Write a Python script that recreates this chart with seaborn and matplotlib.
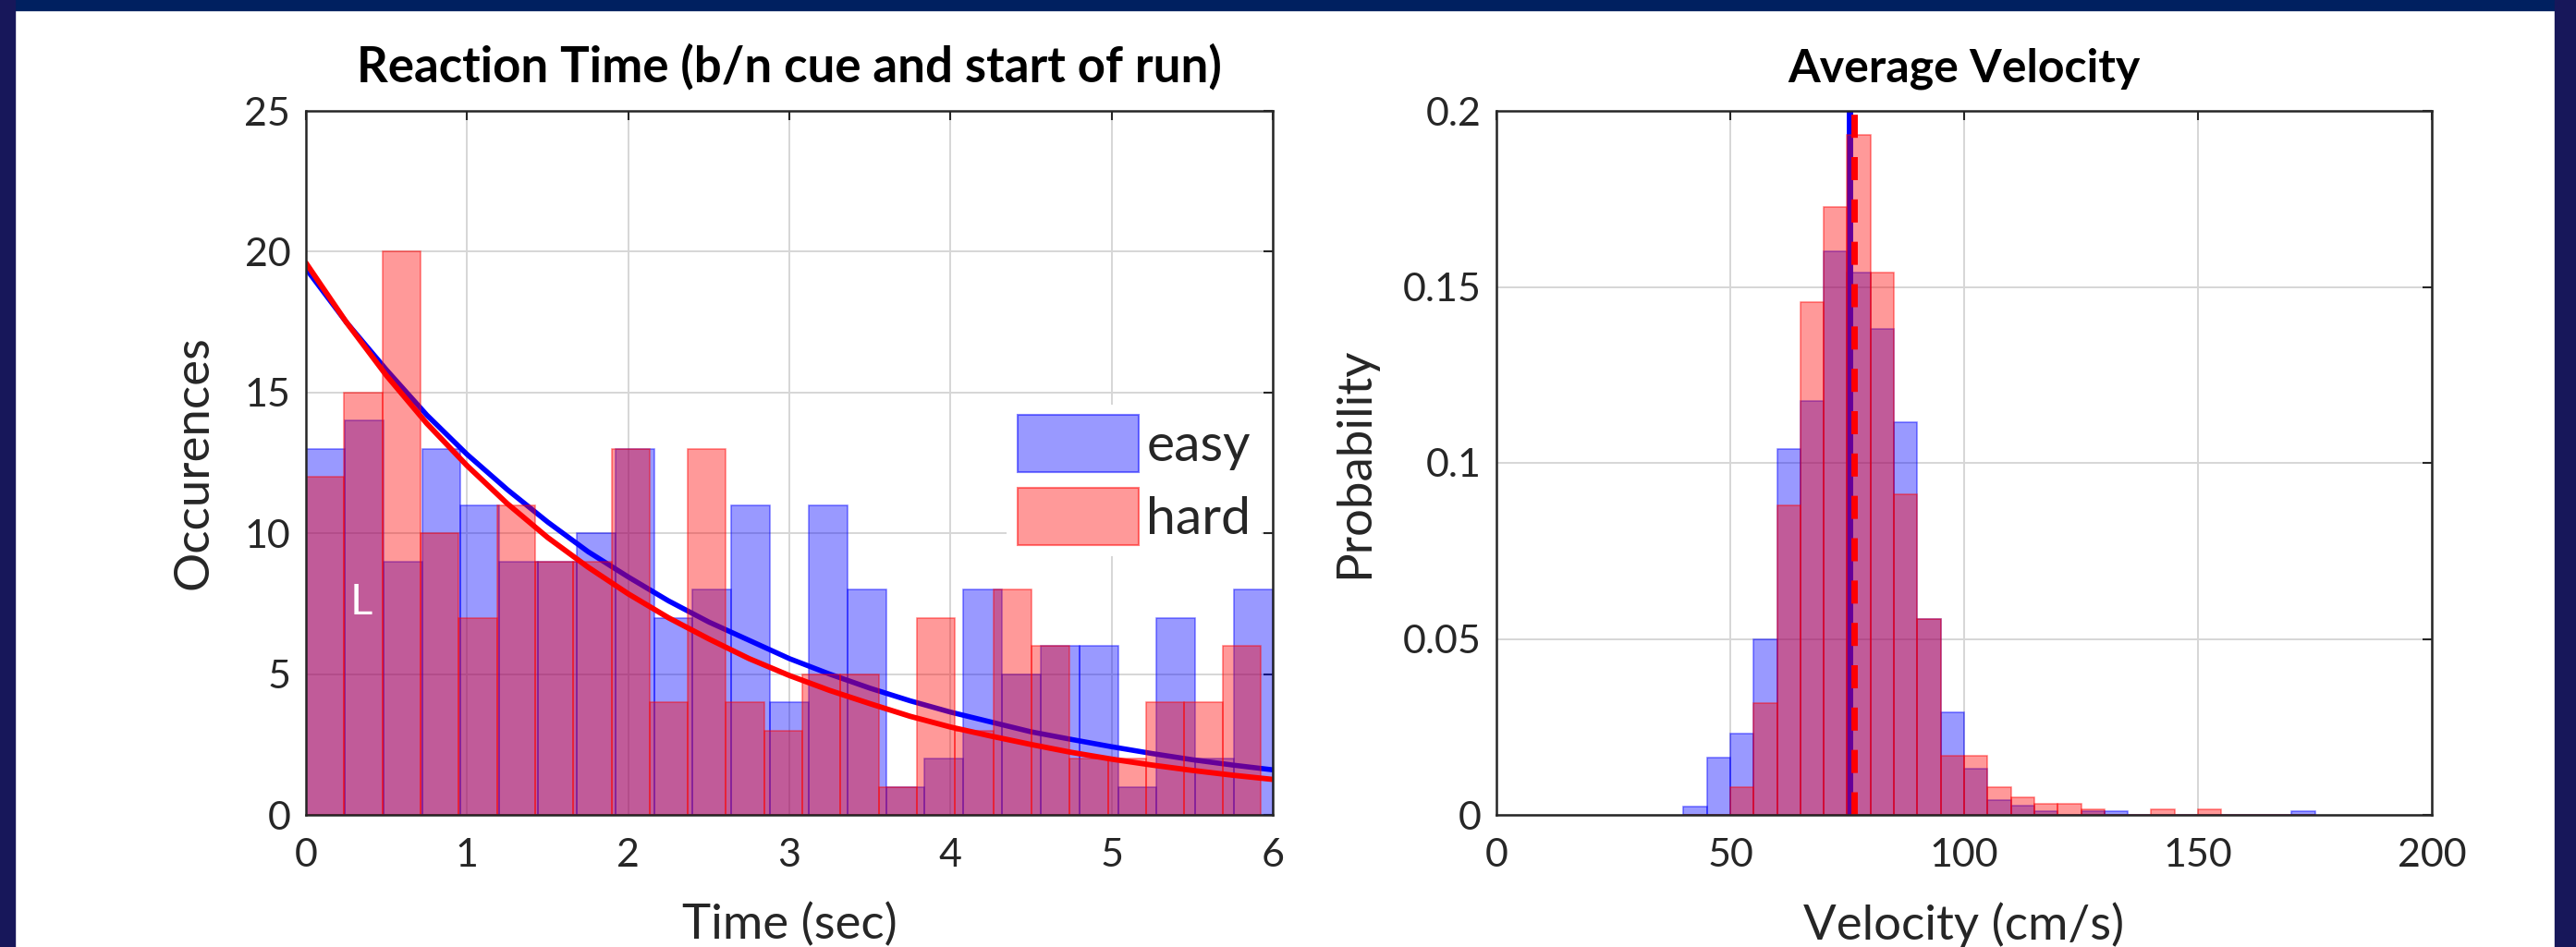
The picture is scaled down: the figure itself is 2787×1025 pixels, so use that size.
import numpy as np
import pandas as pd
import matplotlib
matplotlib.use("Agg")
import matplotlib.pyplot as plt
from matplotlib.patches import Patch, Rectangle
import seaborn as sns

# --- reaction time: counts per bin (25 bins each) ---
easy_rt_counts = [13, 14, 9, 13, 11, 9, 9, 10, 13, 7, 8, 11, 4, 11, 8, 1, 2, 8, 5, 6, 6, 1, 7, 2, 8]
hard_rt_counts = [12, 15, 20, 10, 7, 11, 9, 9, 13, 4, 13, 4, 3, 5, 5, 1, 7, 3, 8, 6, 2, 2, 4, 4, 6]
easy_rt_range = (0.0, 6.0)
hard_rt_range = (0.0, 5.925)

# exponential fit curves, read every 0.25 s
fit_t = [0, 0.25, 0.5, 0.75, 1.0, 1.25, 1.5, 1.75, 2.0, 2.25, 2.5, 2.75, 3.0,
         3.25, 3.5, 3.75, 4.0, 4.25, 4.5, 4.75, 5.0, 5.25, 5.5, 5.75, 6.0]
easy_fit = [19.4, 17.5, 15.8, 14.2, 12.8, 11.55, 10.4, 9.35, 8.45, 7.6, 6.85, 6.2, 5.55,
            5.0, 4.5, 4.05, 3.65, 3.3, 2.95, 2.68, 2.42, 2.18, 1.96, 1.77, 1.6]
hard_fit = [19.6, 17.5, 15.6, 13.9, 12.4, 11.05, 9.85, 8.8, 7.85, 7.0, 6.25, 5.55, 4.95,
            4.42, 3.95, 3.5, 3.12, 2.8, 2.5, 2.22, 1.98, 1.77, 1.58, 1.41, 1.26]

# --- average velocity: probability per 5 cm/s bin, bins start at 40 ---
vel_bin_start = [40, 45, 50, 55, 60, 65, 70, 75, 80, 85, 90, 95, 100, 105,
                 110, 115, 120, 125, 130, 135, 140, 145, 150, 155, 160, 165, 170]
easy_vel_prob = [0.0023, 0.0162, 0.023, 0.050, 0.104, 0.1175, 0.160, 0.154, 0.138,
                 0.1115, 0.0556, 0.0292, 0.013, 0.0042, 0.0026, 0.0011, 0, 0.0011,
                 0.0011, 0, 0, 0, 0, 0, 0, 0, 0.0011]
hard_vel_prob = [0, 0, 0.008, 0.0317, 0.088, 0.1457, 0.1727, 0.1932, 0.154,
                 0.0912, 0.0556, 0.0167, 0.0167, 0.008, 0.0051, 0.0031, 0.0031, 0.0016,
                 0, 0, 0.0016, 0, 0.0016, 0, 0, 0, 0]
vel_bin_width = 5
easy_vel_mean = 75.4
hard_vel_mean = 76.4

BLUE_FACE = (0, 0, 1, 0.4)
BLUE_EDGE = (0, 0, 1, 0.5)
RED_FACE = (1, 0, 0, 0.4)
RED_EDGE = (1, 0, 0, 0.5)
DARK = "#262626"

sns.set_theme(style="white")
plt.rcParams["font.family"] = ["Lato", "DejaVu Sans"]

W, H = 2787, 1025
fig = plt.figure(figsize=(W / 100, H / 100), dpi=100)
fig.patch.set_facecolor("white")

# slide frame remnants
fig.patches.append(Rectangle((0, 1 - 11 / H), 1, 11 / H, transform=fig.transFigure,
                             color="#002060", zorder=0))
fig.patches.append(Rectangle((0, 0), 16 / W, 1, transform=fig.transFigure,
                             color="#17175a", zorder=0))
fig.patches.append(Rectangle((1 - 23 / W, 0), 23 / W, 1, transform=fig.transFigure,
                             color="#17175a", zorder=0))

ax1 = fig.add_axes([331 / W, (H - 882) / H, 1046 / W, 762 / H])
ax2 = fig.add_axes([1619 / W, (H - 882) / H, 1012 / W, 762 / H])

# ---------- left: reaction time ----------
easy_edges = np.linspace(*easy_rt_range, len(easy_rt_counts) + 1)
hard_edges = np.linspace(*hard_rt_range, len(hard_rt_counts) + 1)
rt_easy = pd.DataFrame({"t": (easy_edges[:-1] + easy_edges[1:]) / 2, "n": easy_rt_counts})
rt_hard = pd.DataFrame({"t": (hard_edges[:-1] + hard_edges[1:]) / 2, "n": hard_rt_counts})

sns.histplot(data=rt_easy, x="t", weights="n", bins=easy_edges.tolist(), ax=ax1,
             facecolor=BLUE_FACE, edgecolor=BLUE_EDGE, linewidth=1.1, zorder=1)
sns.lineplot(x=fit_t, y=easy_fit, ax=ax1, color="blue", lw=4.0, zorder=1.5, legend=False)
sns.histplot(data=rt_hard, x="t", weights="n", bins=hard_edges.tolist(), ax=ax1,
             facecolor=RED_FACE, edgecolor=RED_EDGE, linewidth=1.1, zorder=2)
sns.lineplot(x=fit_t, y=hard_fit, ax=ax1, color="red", lw=4.2, zorder=2.5, legend=False)

ax1.set_xlim(0, 6)
ax1.set_ylim(0, 25)
ax1.set_xticks(range(0, 7))
ax1.set_yticks(range(0, 26, 5))
ax1.set_title("Reaction Time (b/n cue and start of run)", fontsize=38,
              fontweight="bold", pad=23, color="black")
ax1.set_xlabel("Time (sec)", fontsize=38, color=DARK)
ax1.set_ylabel("Occurences", fontsize=38, color=DARK)
ax1.xaxis.set_label_coords(0.5, -0.124)
ax1.yaxis.set_label_coords(-0.093, 0.5)

handles = [Patch(facecolor=BLUE_FACE, edgecolor=BLUE_EDGE, lw=1.5, label="easy"),
           Patch(facecolor=RED_FACE, edgecolor=RED_EDGE, lw=1.5, label="hard")]
leg = ax1.legend(handles=handles, loc="upper left", bbox_to_anchor=(0.725, 0.583),
                 fontsize=41, frameon=True, framealpha=1, facecolor="white",
                 edgecolor="none", fancybox=False, borderpad=0.2, borderaxespad=0,
                 handlelength=2.3, handleheight=1.3, handletextpad=0.15,
                 labelspacing=0.3)
leg.set_zorder(5)

fig.text(391 / W, 1 - 652 / H, "L", color="white", fontsize=34,
         ha="center", va="center")

# ---------- right: average velocity ----------
vel_edges = np.append(vel_bin_start, vel_bin_start[-1] + vel_bin_width)
vel = pd.DataFrame({"v": np.array(vel_bin_start) + vel_bin_width / 2,
                    "easy": easy_vel_prob, "hard": hard_vel_prob})

sns.histplot(data=vel, x="v", weights="easy", bins=vel_edges.tolist(), ax=ax2,
             facecolor=BLUE_FACE, edgecolor=BLUE_EDGE, linewidth=1.1, zorder=1)
ax2.axvline(easy_vel_mean, color="blue", lw=5, zorder=1.5)
sns.histplot(data=vel, x="v", weights="hard", bins=vel_edges.tolist(), ax=ax2,
             facecolor=RED_FACE, edgecolor=RED_EDGE, linewidth=1.1, zorder=2)
ax2.axvline(hard_vel_mean, color="red", lw=5, dashes=(3.6, 3.0), zorder=2.5)

ax2.set_xlim(0, 200)
ax2.set_ylim(0, 0.2)
ax2.set_xticks([0, 50, 100, 150, 200])
ax2.set_yticks([0, 0.05, 0.1, 0.15, 0.2])
ax2.set_yticklabels(["0", "0.05", "0.1", "0.15", "0.2"])
ax2.set_title("Average Velocity", fontsize=36, fontweight="bold", pad=23, color="black")
ax2.set_xlabel("Velocity (cm/s)", fontsize=38, color=DARK)
ax2.set_ylabel("Probability", fontsize=38, color=DARK)
ax2.xaxis.set_label_coords(0.5, -0.124)
ax2.yaxis.set_label_coords(-0.128, 0.5)

for ax in (ax1, ax2):
    ax.grid(True, color="#d6d6d6", lw=1.4)
    ax.set_axisbelow(True)
    for s in ax.spines.values():
        s.set_color(DARK)
        s.set_linewidth(1.8)
    ax.tick_params(direction="in", length=7, width=1.5, color=DARK,
                   top=True, right=True, labelsize=31, labelcolor=DARK)
    ax.tick_params(axis="x", pad=18)
    ax.tick_params(axis="y", pad=12)

fig.savefig("out.png", dpi=100)
